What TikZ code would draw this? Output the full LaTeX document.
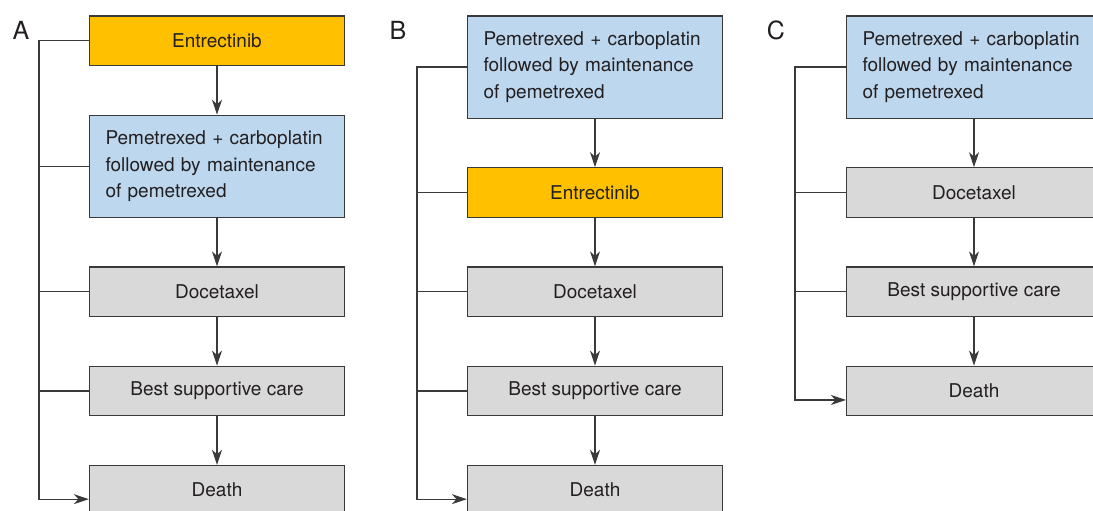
\documentclass[tikz,border=0pt]{standalone}
\usepackage{fontspec}
\setmainfont{TeX Gyre Heros}
\usepackage{xcolor}
\usetikzlibrary{arrows.meta,positioning}
\definecolor{entfill}{HTML}{FFC000}
\definecolor{chemofill}{HTML}{BDD7EE}
\definecolor{carefill}{HTML}{D9D9D9}
\definecolor{boxline}{HTML}{3A3A3A}
\definecolor{txt}{HTML}{231F20}
\begin{document}
\begin{tikzpicture}[x=1pt,y=-1pt,
            node distance=48.5pt,
            box/.style={draw=boxline, line width=1.2pt, minimum width=255pt, minimum height=49.5pt, inner sep=0pt,
                        font=\fontsize{19}{26.7}\selectfont, text=txt},
            drug/.style={box, fill=entfill},
            chemo/.style={box, fill=chemofill, minimum height=102pt, text width=223pt, inner xsep=16pt, align=left},
            care/.style={box, fill=carefill},
            conn/.style={draw=boxline, line width=1.2pt},
            arr/.style={conn, -{Stealth[length=15pt,width=10pt,inset=4.5pt]}},
            panel/.style={font=\fontsize{25}{25}\selectfont, text=txt}]
				\useasboundingbox (0,0) rectangle (1093,511);

				% A
				\node[panel] (aLab) at (21,30) {A};
				\node[drug, anchor=north] (aEnt) at (217,15.5) {Entrectinib};
				\node[chemo, below=of aEnt] (aPem) {Pemetrexed + carboplatin\\followed by maintenance\\of pemetrexed};
				\node[care, below=of aPem] (aDoc) {Docetaxel};
				\node[care, below=of aDoc] (aBsc) {Best supportive care};
				\node[care, below=of aBsc] (aDeath) {Death};
				\draw[arr] (aEnt) -- (aPem);
				\draw[arr] (aPem) -- (aDoc);
				\draw[arr] (aDoc) -- (aBsc);
				\draw[arr] (aBsc) -- (aDeath);
				\coordinate (aRail) at (39,0);
				\coordinate (aEnd) at ([yshift=-9pt]aDeath.west);
				\draw[arr] (aEnt.west) -- (aEnt.west -| aRail) |- (aEnd);
				\foreach \n in {aPem,aDoc,aBsc}
					\draw[conn] (\n.west) -- (\n.west -| aRail);

				% B
				\node[panel] (bLab) at (398,30) {B};
				\node[chemo, anchor=north] (bPem) at (595,15.5) {Pemetrexed + carboplatin\\followed by maintenance\\of pemetrexed};
				\node[drug, below=of bPem] (bEnt) {Entrectinib};
				\node[care, below=of bEnt] (bDoc) {Docetaxel};
				\node[care, below=of bDoc] (bBsc) {Best supportive care};
				\node[care, below=of bBsc] (bDeath) {Death};
				\draw[arr] (bPem) -- (bEnt);
				\draw[arr] (bEnt) -- (bDoc);
				\draw[arr] (bDoc) -- (bBsc);
				\draw[arr] (bBsc) -- (bDeath);
				\coordinate (bRail) at (417,0);
				\coordinate (bEnd) at ([yshift=-9pt]bDeath.west);
				\draw[arr] (bPem.west) -- (bPem.west -| bRail) |- (bEnd);
				\foreach \n in {bEnt,bDoc,bBsc}
					\draw[conn] (\n.west) -- (\n.west -| bRail);

				% C
				\node[panel] (cLab) at (776,30) {C};
				\node[chemo, anchor=north] (cPem) at (974,15.5) {Pemetrexed + carboplatin\\followed by maintenance\\of pemetrexed};
				\node[care, below=of cPem] (cDoc) {Docetaxel};
				\node[care, below=of cDoc] (cBsc) {Best supportive care};
				\node[care, below=of cBsc] (cDeath) {Death};
				\draw[arr] (cPem) -- (cDoc);
				\draw[arr] (cDoc) -- (cBsc);
				\draw[arr] (cBsc) -- (cDeath);
				\coordinate (cRail) at (795,0);
				\coordinate (cEnd) at ([yshift=-9pt]cDeath.west);
				\draw[arr] (cPem.west) -- (cPem.west -| cRail) |- (cEnd);
				\foreach \n in {cDoc,cBsc}
					\draw[conn] (\n.west) -- (\n.west -| cRail);
\end{tikzpicture}
\end{document}
